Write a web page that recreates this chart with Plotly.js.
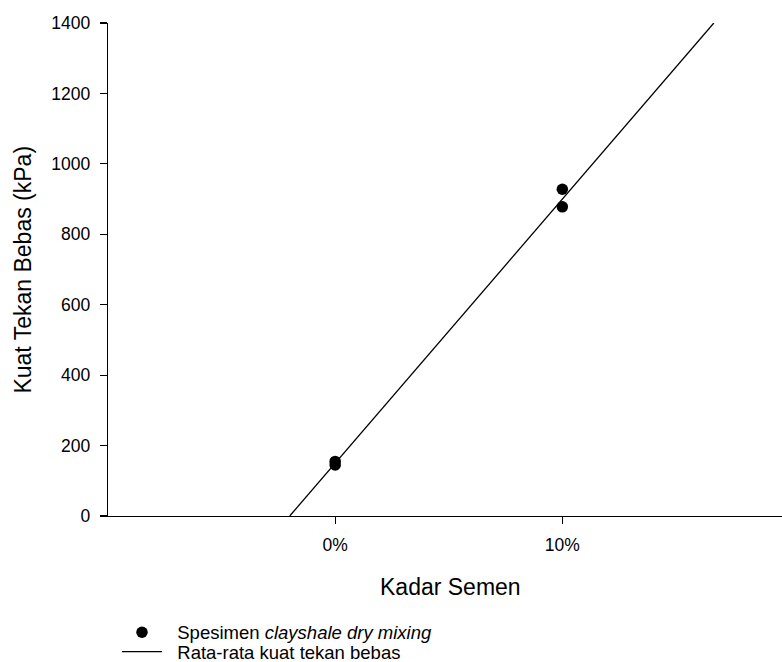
<!DOCTYPE html>
<html>
<head>
<meta charset="utf-8">
<script src="https://cdn.plot.ly/plotly-3.0.1.min.js"></script>
<style>html,body{margin:0;padding:0;background:#fff;}#chart{width:782px;height:662px;}</style>
</head>
<body>
<div id="chart"></div>
<script>
// Specimen data (cement content in %, UCS in kPa)
var specimenX = [0, 0, 10, 10];
var specimenY = [155, 145, 928, 878];
// Average strength trend line endpoints
var avgX = [-2, 16.67];
var avgY = [0, 1400];
// Tick labels
var xTickVals = [0, 10];
var xTickText = ['0%', '10%'];
var yTickVals = [0, 200, 400, 600, 800, 1000, 1200, 1400];
var xTitle = 'Kadar Semen';
var yTitle = 'Kuat Tekan Bebas (kPa)';

var font = 'Liberation Sans, Arial, sans-serif';

var traces = [
  {
    x: specimenX, y: specimenY, type: 'scatter', mode: 'markers',
    name: '  Spesimen <i>clayshale dry mixing</i>',
    legend: 'legend',
    marker: {color: '#000', size: 11.5, symbol: 'circle'},
    cliponaxis: false
  },
  {
    x: avgX, y: avgY, type: 'scatter', mode: 'lines',
    name: '  Rata-rata kuat tekan bebas',
    legend: 'legend2',
    line: {color: '#000', width: 1.3}
  }
];

var legendCommon = {
  xref: 'container', yref: 'container',
  xanchor: 'left', yanchor: 'middle',
  font: {family: font, size: 18.5, color: '#000'},
  bgcolor: 'rgba(0,0,0,0)', itemwidth: 40, borderwidth: 0
};

var plotL = 107.5, plotT = 23.3, plotW = 782 - 107.5, plotH = 515.7 - 23.3;

var layout = {
  width: 782, height: 662,
  margin: {l: plotL, r: 0, t: plotT, b: 662 - 515.7, autoexpand: false},
  paper_bgcolor: '#fff', plot_bgcolor: '#fff',
  font: {family: font, color: '#000', size: 17.5},
  showlegend: true,
  legend: Object.assign({}, legendCommon, {x: 117 / 782, y: 1 - 632.7 / 662}),
  legend2: Object.assign({}, legendCommon, {x: 117 / 782, y: 1 - 652 / 662}),
  xaxis: {
    range: [-10, 19.67], showgrid: false, zeroline: false,
    showline: true, linecolor: '#000', linewidth: 1.3,
    ticks: 'outside', ticklen: 7, tickwidth: 1.2, tickcolor: '#000',
    tickvals: xTickVals, ticktext: xTickText, ticklabelstandoff: 6,
    tickfont: {family: font, size: 17.5, color: '#000'}
  },
  yaxis: {
    range: [0, 1400], showgrid: false, zeroline: false,
    showline: true, linecolor: '#000', linewidth: 1.3,
    ticks: 'outside', ticklen: 7, tickwidth: 1.2, tickcolor: '#000',
    tickvals: yTickVals, ticklabelstandoff: 6,
    tickfont: {family: font, size: 17.5, color: '#000'}
  },
  annotations: [
    {
      text: xTitle, xref: 'paper', yref: 'paper',
      x: (450 - plotL) / plotW, y: (515.7 - 587) / plotH,
      xanchor: 'center', yanchor: 'middle', showarrow: false,
      font: {family: font, size: 23, color: '#000'}
    },
    {
      text: yTitle, xref: 'paper', yref: 'paper', textangle: -90,
      x: (22 - plotL) / plotW, y: (515.7 - 270) / plotH,
      xanchor: 'center', yanchor: 'middle', showarrow: false,
      font: {family: font, size: 23, color: '#000'}
    }
  ]
};

Plotly.newPlot('chart', traces, layout, {displayModeBar: false, staticPlot: true});
</script>
</body>
</html>
